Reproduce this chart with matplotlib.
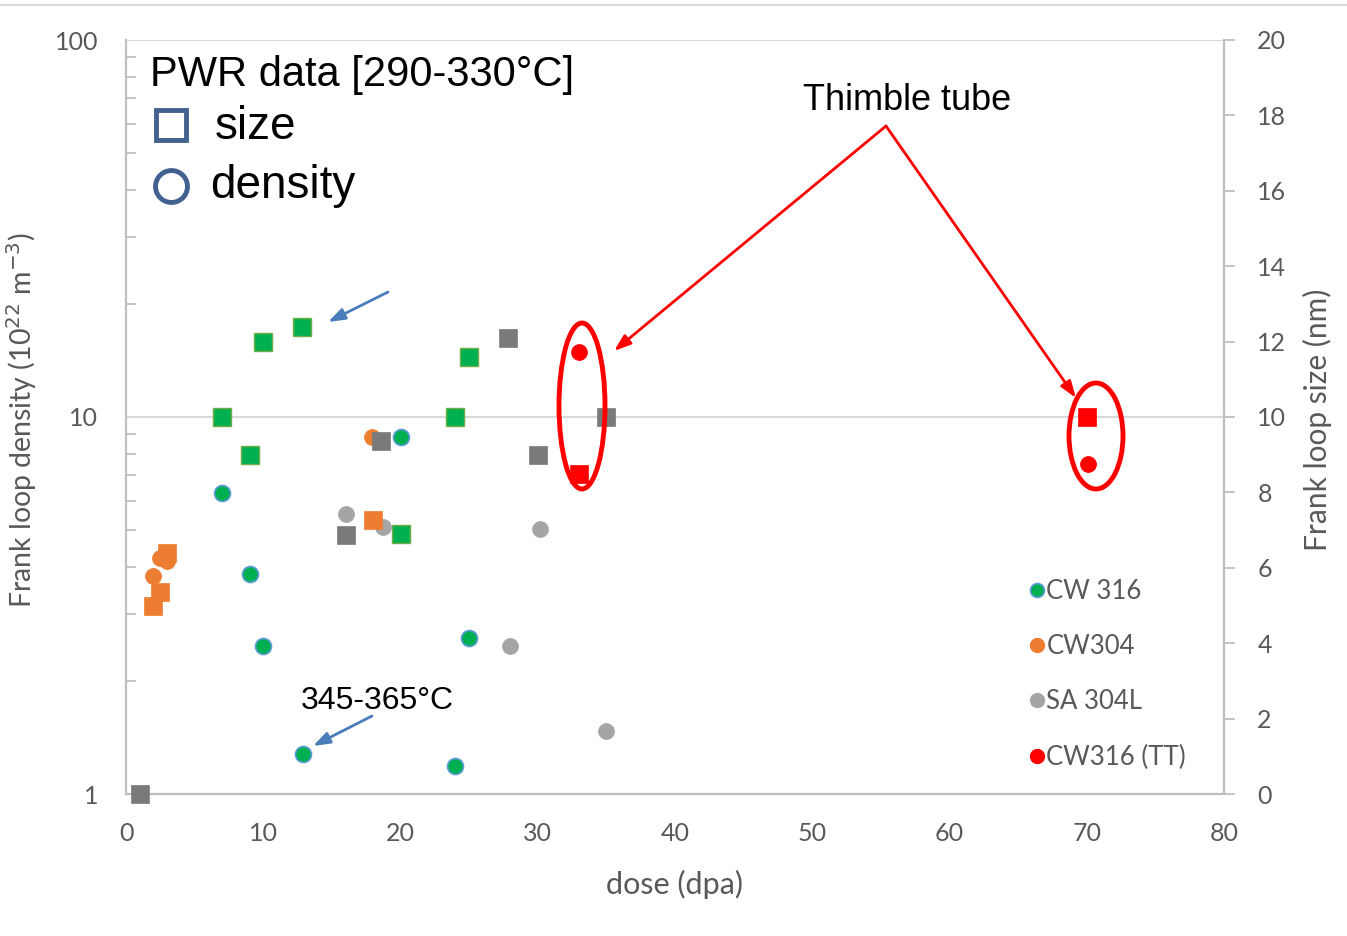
import matplotlib
matplotlib.use("Agg")
import matplotlib.pyplot as plt
from matplotlib.patches import Ellipse
from matplotlib.lines import Line2D
import matplotlib.ticker as mticker

# ---------------- data ----------------
# CW 316
cw316_size_dose = [7, 9, 10, 12.8, 20, 24, 25]
cw316_size = [10, 9, 12.0, 12.4, 6.9, 10, 11.6]
cw316_dens_dose = [7, 9, 10, 12.9, 20, 24, 25]
cw316_dens = [6.3, 3.83, 2.47, 1.28, 8.85, 1.19, 2.59]
# CW304
cw304_size_dose = [2.0, 2.5, 3.0, 18]
cw304_size = [5.0, 5.35, 6.4, 7.27]
cw304_dens_dose = [2.0, 2.5, 3.0, 17.9]
cw304_dens = [3.79, 4.23, 4.15, 8.85]
# SA 304L
sa304_size_dose = [1.0, 16, 18.6, 27.8, 30, 35]
sa304_size = [0, 6.87, 9.36, 12.1, 9.0, 10]
sa304_dens_dose = [16, 18.7, 28, 30.2, 35]
sa304_dens = [5.53, 5.11, 2.47, 5.05, 1.47]
# CW316 (TT) thimble tube
tt_size_dose = [33, 70]
tt_size = [8.5, 10]
tt_dens_dose = [33, 70.1]
tt_dens = [14.9, 7.5]

legend_labels = ["CW 316", "CW304", "SA 304L", "CW316 (TT)"]
x_ticks = [0, 10, 20, 30, 40, 50, 60, 70, 80]
y2_ticks = [0, 2, 4, 6, 8, 10, 12, 14, 16, 18, 20]

GREEN = "#00B050"
ORANGE = "#ED7D31"
DGRAY = "#7A7A7A"
LGRAY = "#A5A5A5"
RED = "#FF0000"
TXT = "#595959"
AXC = "#BFBFBF"

fig = plt.figure(figsize=(13.47, 9.36), dpi=100)
ax = fig.add_axes([126/1347, 1-794/936, (1224-126)/1347, (794-40)/936])
ax2 = ax.twinx()

TF = "Lato"

# left log axis
ax.set_yscale("log")
ax.set_ylim(1, 100)
ax.set_xlim(0, 80)
ax.set_xticks(x_ticks)
ax.yaxis.set_major_locator(mticker.FixedLocator([1, 10, 100]))
ax.yaxis.set_major_formatter(mticker.FixedFormatter(["1", "10", "100"]))
ax.yaxis.set_minor_locator(mticker.LogLocator(base=10, subs=range(2, 10)))
ax.yaxis.set_minor_formatter(mticker.NullFormatter())
ax.grid(axis="y", which="major", color="#D9D9D9", lw=1.5)
ax.set_axisbelow(True)
ax.tick_params(axis="y", which="major", direction="in", length=0, labelsize=18,
               labelcolor=TXT, pad=20)
ax.tick_params(axis="y", which="minor", direction="in", length=7, color=AXC, width=1.3)
ax.tick_params(axis="x", length=0, labelsize=18, labelcolor=TXT, pad=20)
for lab in ax.get_xticklabels() + ax.get_yticklabels():
    lab.set_fontfamily(TF)

ax2.set_ylim(0, 20)
ax2.set_yticks(y2_ticks)
ax2.tick_params(axis="y", direction="out", length=8, color=AXC, width=1.3,
                labelsize=18, labelcolor=TXT, pad=16)
for lab in ax2.get_yticklabels():
    lab.set_fontfamily(TF)

for a in (ax, ax2):
    for s in a.spines.values():
        s.set_color(AXC)
        s.set_linewidth(1.5)
    a.spines["top"].set_visible(False)
ax.spines["bottom"].set_color("#A6A6A6")

ax.set_xlabel("dose (dpa)", fontsize=22, color=TXT, family=TF)
ax.xaxis.set_label_coords(0.5, -(870-794)/754, transform=ax.transAxes)
ax.set_ylabel(r"Frank loop density (10$^{22}$ m$^{-3}$)", fontsize=20.5, color=TXT,
              family=TF)
ax.yaxis.set_label_coords(-(126-39)/1098, (794-420)/754, transform=ax.transAxes)
ax2.set_ylabel("Frank loop size (nm)", fontsize=21.5, color=TXT, family=TF, rotation=90)
ax2.yaxis.set_label_coords(1+(1303-1224)/1098, (794-420)/754, transform=ax.transAxes)

SQ = 13.5
CI = 11.5
# size (squares) on right axis
ax2.plot(cw316_size_dose, cw316_size, "s", ms=SQ, mfc=GREEN, mec="#70AD47", mew=1, zorder=3)
ax2.plot(cw304_size_dose, cw304_size, "s", ms=SQ, mfc=ORANGE, mec=ORANGE, mew=0.5, zorder=3)
ax2.plot(sa304_size_dose, sa304_size, "s", ms=SQ, mfc=DGRAY, mec=DGRAY, mew=0.5, zorder=3,
         clip_on=False)
ax2.plot(tt_size_dose, tt_size, "s", ms=SQ, mfc=RED, mec=RED, mew=0.5, zorder=3)
# density (circles) on left (log) axis scale
ax2.plot(cw316_dens_dose, cw316_dens, "o", ms=CI, mfc=GREEN, mec="#5B9BD5", mew=1.2,
         transform=ax.transData, zorder=4)
ax2.plot(cw304_dens_dose, cw304_dens, "o", ms=CI, mfc=ORANGE, mec=ORANGE, mew=0.5,
         transform=ax.transData, zorder=2)
ax2.plot(sa304_dens_dose, sa304_dens, "o", ms=CI, mfc=LGRAY, mec=LGRAY, mew=0.5,
         transform=ax.transData, zorder=2)
ax2.plot(tt_dens_dose, tt_dens, "o", ms=CI, mfc=RED, mec=RED, mew=0.5,
         transform=ax.transData, zorder=4)

# legend
handles = [
    Line2D([], [], ls="", marker="o", ms=10, mfc=GREEN, mec="#5B9BD5", mew=1.2),
    Line2D([], [], ls="", marker="o", ms=10, mfc=ORANGE, mec=ORANGE),
    Line2D([], [], ls="", marker="o", ms=10, mfc=LGRAY, mec=LGRAY),
    Line2D([], [], ls="", marker="o", ms=10, mfc=RED, mec=RED),
]
leg = ax2.legend(handles, legend_labels, loc="lower left",
                 bbox_to_anchor=((1022-126)/1098, (794-780)/754), frameon=False,
                 handlelength=0.4, handletextpad=0.15, labelspacing=1.18,
                 prop={"family": TF, "size": 18.5}, borderaxespad=0)
for t in leg.get_texts():
    t.set_color(TXT)

# annotations (figure pixel coords helper)
def fx(px):
    return px / 1347

def fy(py):
    return 1 - py / 936

AF = "Liberation Sans"
fig.text(fx(150), fy(75), "PWR data [290-330°C]", fontsize=30, family=AF,
         va="center", ha="left", color="black")
fig.text(fx(215), fy(127), "size", fontsize=33, family=AF, va="center", ha="left")
fig.text(fx(210), fy(186), "density", fontsize=33, family=AF, va="center", ha="left")
fig.lines.append(Line2D([fx(171)], [fy(125)], transform=fig.transFigure, marker="s",
                        ms=22, mfc="none", mec="#41618F", mew=3.5, ls=""))
fig.lines.append(Line2D([fx(171)], [fy(186)], transform=fig.transFigure, marker="o",
                        ms=23, mfc="none", mec="#41618F", mew=3.5, ls=""))

fig.text(fx(907), fy(100), "Thimble tube", fontsize=26, family=AF, va="center", ha="center")
fig.text(fx(377), fy(701), "345-365°C", fontsize=23, family=AF, va="center", ha="center")

def farrow(x0, y0, x1, y1, color, lw, hw, hl):
    ax.annotate("", xy=(fx(x1), fy(y1)), xytext=(fx(x0), fy(y0)),
                xycoords="figure fraction", textcoords="figure fraction",
                arrowprops=dict(arrowstyle=f"-|>,head_width={hw},head_length={hl}",
                                color=color, lw=lw, shrinkA=0, shrinkB=0),
                annotation_clip=False)

farrow(886, 126, 614, 351, RED, 2.0, 0.35, 1.0)
farrow(886, 126, 1076, 398, RED, 2.0, 0.35, 1.0)
farrow(388, 292, 328, 322, "#4A7EBB", 2.0, 0.35, 1.0)
farrow(372, 716, 313, 746, "#4A7EBB", 2.0, 0.35, 1.0)

# red ellipses (in figure pixel geometry)
for cx, cy, w, h in [(582, 406, 46, 166), (1096, 436, 54, 106)]:
    e = Ellipse((fx(cx), fy(cy)), w / 1347, h / 936, transform=fig.transFigure,
                fill=False, ec=RED, lw=3.5)
    fig.patches.append(e)

# thin frame line at top of image
fig.lines.append(Line2D([0, 1], [fy(5), fy(5)], transform=fig.transFigure,
                        color="#D9D9D9", lw=1.5))

fig.savefig("out.png", dpi=100)
